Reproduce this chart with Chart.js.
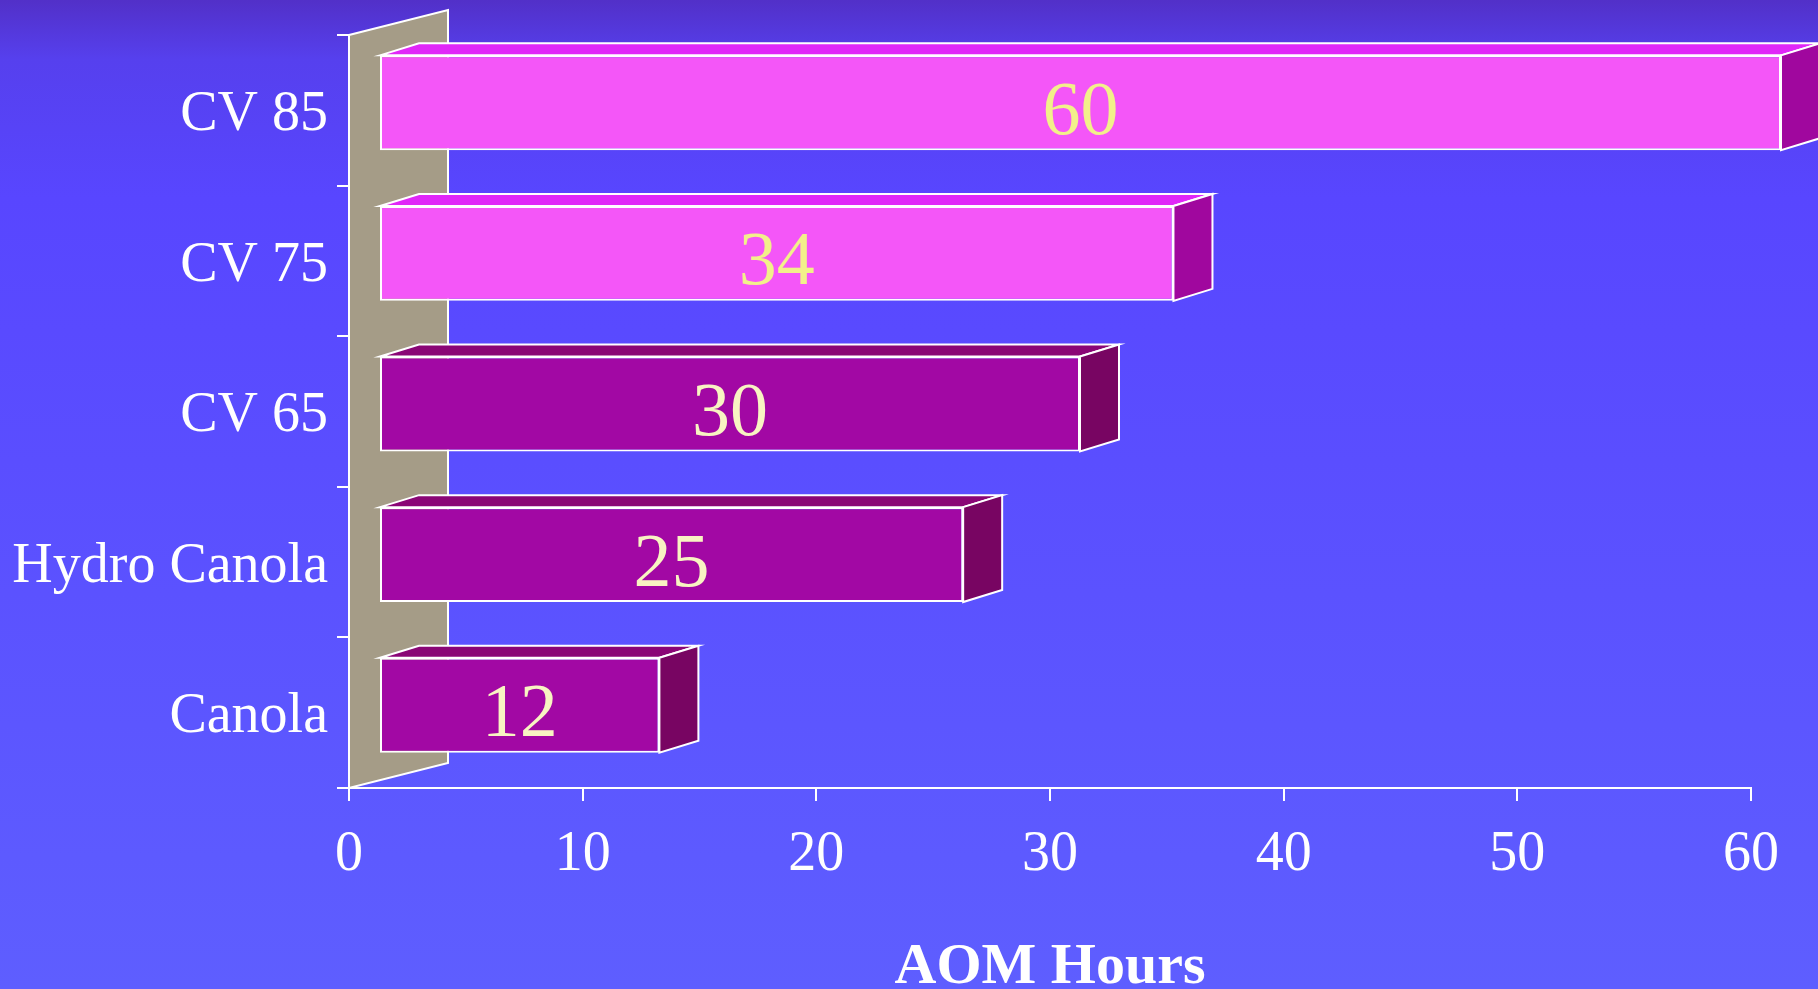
<!DOCTYPE html>
<html>
<head>
<meta charset="utf-8">
<script src="https://cdn.jsdelivr.net/npm/chart.js@4.4.0/dist/chart.umd.min.js"></script>
<style>
  html, body { margin: 0; padding: 0; overflow: hidden; background: #5b50ff; }
  #wrap { width: 1818px; height: 989px; position: relative; }
  canvas { display: block; }
</style>
</head>
<body>
<div id="wrap"><canvas id="chart" width="1818" height="989"></canvas></div>
<script>
// Oxidative stability (AOM hours) by oil type
const categories = ['CV 85', 'CV 75', 'CV 65', 'Hydro Canola', 'Canola'];
const aomHours = [60, 34, 30, 25, 12];
const xTicks = [0, 10, 20, 30, 40, 50, 60];
const axisTitle = 'AOM Hours';

// face colours per bar: front, top, side, value label
const frontColors = ['#F456F8', '#F456F8', '#A208A4', '#A208A4', '#A208A4'];
const topColors   = ['#E027F8', '#E027F8', '#8A0676', '#8A0676', '#8A0676'];
const sideColors  = ['#A0079E', '#A0079E', '#780562', '#780562', '#780562'];
const labelColors = ['#F2F08A', '#F2F08A', '#F8F4C2', '#F8F4C2', '#F8F4C2'];

// 3D projection: where the front face sits relative to the scale, and bar depth
const FRONT_DX = 30, FRONT_DY = -7.5;
const DEPTH_DX = 39, DEPTH_DY = -12;
const WALL_DX = 99, WALL_DY = -25;

const serif = "'Liberation Serif', 'Times New Roman', serif";

const threeD = {
  id: 'threeD',
  beforeDraw(chart) {
    const { ctx, width, height } = chart;
    const g = ctx.createLinearGradient(0, 0, 0, height);
    g.addColorStop(0, '#5230C8');
    g.addColorStop(0.06, '#5640EE');
    g.addColorStop(0.2, '#5846FF');
    g.addColorStop(1, '#5E5EFF');
    ctx.save();
    ctx.fillStyle = g;
    ctx.fillRect(0, 0, width, height);
    ctx.restore();
  },
  beforeDatasetsDraw(chart) {
    const { ctx, chartArea } = chart;
    const l = chartArea.left, t = chartArea.top, b = chartArea.bottom;
    // side wall behind the category axis
    ctx.save();
    ctx.beginPath();
    ctx.moveTo(l, t);
    ctx.lineTo(l + WALL_DX, t + WALL_DY);
    ctx.lineTo(l + WALL_DX, b + WALL_DY);
    ctx.lineTo(l, b);
    ctx.closePath();
    ctx.fillStyle = '#A59C87';
    ctx.fill();
    ctx.strokeStyle = '#FFFFFF';
    ctx.lineWidth = 2;
    ctx.stroke();
    ctx.restore();

    // top and side faces of each bar, then the front faces follow (Chart.js)
    ctx.save();
    ctx.translate(FRONT_DX, FRONT_DY);
    const meta = chart.getDatasetMeta(0);
    meta.data.forEach((el, i) => {
      const { x, y, base, height } = el.getProps(['x', 'y', 'base', 'height'], true);
      const x0 = Math.min(x, base), x1 = Math.max(x, base);
      const y0 = y - height / 2, y1 = y + height / 2;
      ctx.lineWidth = 2;
      ctx.strokeStyle = '#FFFFFF';
      ctx.lineJoin = 'miter';
      // top face
      ctx.beginPath();
      ctx.moveTo(x0, y0);
      ctx.lineTo(x0 + DEPTH_DX, y0 + DEPTH_DY);
      ctx.lineTo(x1 + DEPTH_DX, y0 + DEPTH_DY);
      ctx.lineTo(x1, y0);
      ctx.closePath();
      ctx.fillStyle = topColors[i];
      ctx.fill();
      ctx.stroke();
      // side face
      ctx.beginPath();
      ctx.moveTo(x1, y0);
      ctx.lineTo(x1 + DEPTH_DX, y0 + DEPTH_DY);
      ctx.lineTo(x1 + DEPTH_DX, y1 + DEPTH_DY);
      ctx.lineTo(x1, y1);
      ctx.closePath();
      ctx.fillStyle = sideColors[i];
      ctx.fill();
      ctx.stroke();
    });
  },
  afterDatasetsDraw(chart) {
    const { ctx } = chart;
    ctx.restore();
    const meta = chart.getDatasetMeta(0);
    ctx.save();
    ctx.font = '76px ' + serif;
    ctx.textAlign = 'center';
    ctx.textBaseline = 'alphabetic';
    meta.data.forEach((el, i) => {
      const { x, y, base } = el.getProps(['x', 'y', 'base'], true);
      const cx = (x + base) / 2 + FRONT_DX;
      const cy = y + FRONT_DY;
      ctx.fillStyle = labelColors[i];
      ctx.fillText(String(aomHours[i]), cx, cy + 31);
    });
    ctx.restore();
  }
};

new Chart(document.getElementById('chart'), {
  type: 'bar',
  data: {
    labels: categories,
    datasets: [{
      data: aomHours,
      backgroundColor: frontColors,
      borderColor: '#FFFFFF',
      borderWidth: 2,
      borderSkipped: false,
      categoryPercentage: 1,
      barPercentage: 0.63,
      clip: false
    }]
  },
  options: {
    indexAxis: 'y',
    responsive: false,
    animation: false,
    devicePixelRatio: 1,
    layout: { padding: { top: 35, right: 67, left: 0, bottom: 0 } },
    plugins: { legend: { display: false }, tooltip: { enabled: false } },
    scales: {
      x: {
        type: 'linear',
        min: xTicks[0],
        max: xTicks[xTicks.length - 1],
        afterBuildTicks(scale) { scale.ticks = xTicks.map(v => ({ value: v })); },
        afterFit(scale) { scale.height = 201; },
        grid: { drawOnChartArea: false, drawTicks: true, tickLength: 13, color: '#FFFFFF', lineWidth: 2 },
        border: { display: true, color: '#FFFFFF', width: 2 },
        ticks: { color: '#FFFFFF', font: { family: serif, size: 56 }, padding: 21, maxRotation: 0 },
        title: {
          display: true,
          text: axisTitle,
          color: '#FFFFFF',
          font: { family: serif, size: 58, weight: 'bold', lineHeight: 0.9 },
          padding: { top: 0, bottom: -5 }
        }
      },
      y: {
        type: 'category',
        afterFit(scale) { scale.width = 349; },
        grid: { drawOnChartArea: false, drawTicks: true, tickLength: 12, color: '#FFFFFF', lineWidth: 2, offset: true },
        border: { display: true, color: '#FFFFFF', width: 2 },
        ticks: { color: '#FFFFFF', font: { family: serif, size: 56, lineHeight: 0.6 }, padding: 9, labelOffset: 5 }
      }
    }
  },
  plugins: [threeD]
});
</script>
</body>
</html>
